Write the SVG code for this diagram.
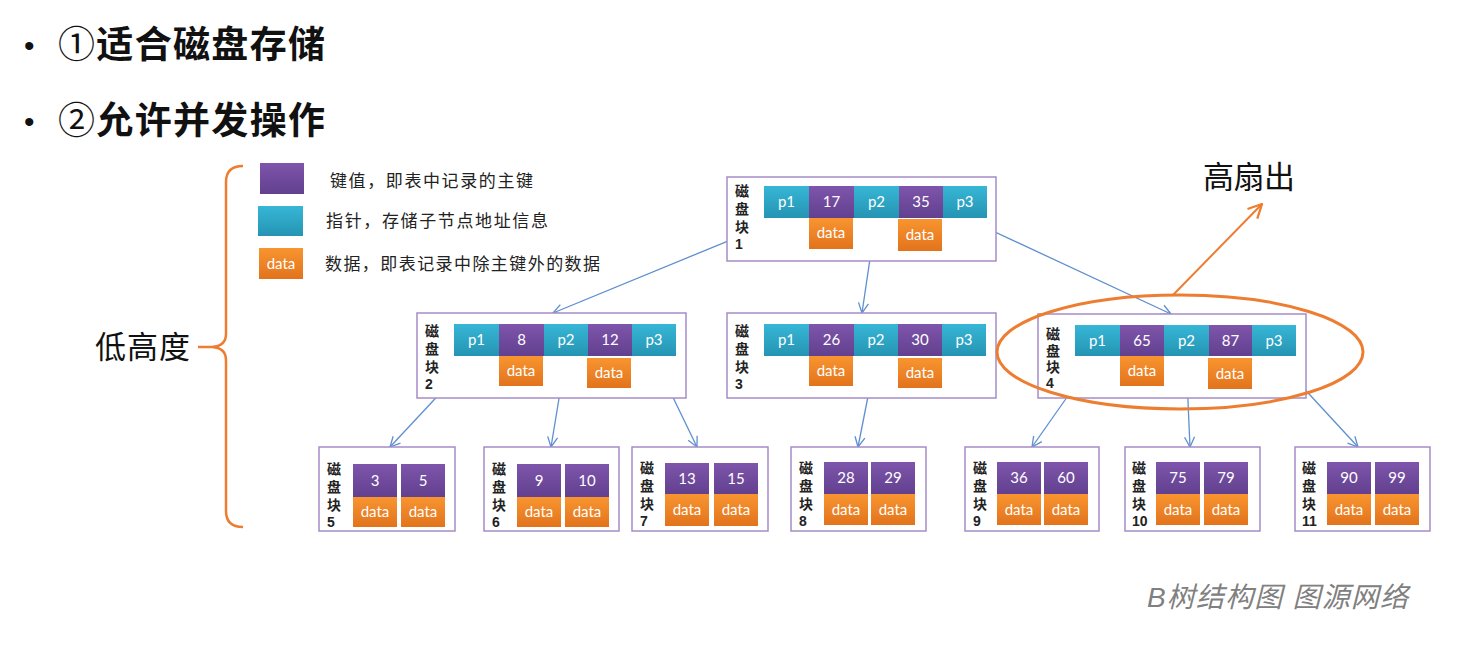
<svg xmlns="http://www.w3.org/2000/svg" width="1462" height="648" viewBox="0 0 1462 648">
<defs>
<linearGradient id="gP" x1="0" y1="0" x2="0" y2="1"><stop offset="0" stop-color="#7E55AB"/><stop offset="1" stop-color="#62408F"/></linearGradient>
<linearGradient id="gC" x1="0" y1="0" x2="0" y2="1"><stop offset="0" stop-color="#37B6D6"/><stop offset="1" stop-color="#2594B3"/></linearGradient>
<linearGradient id="gO" x1="0" y1="0" x2="0" y2="1"><stop offset="0" stop-color="#F89530"/><stop offset="1" stop-color="#E2731C"/></linearGradient>
<marker id="ab" viewBox="0 0 12 12" refX="11" refY="6" markerWidth="12" markerHeight="12" markerUnits="userSpaceOnUse" orient="auto"><path d="M1,1 L11,6 L1,11" fill="none" stroke="#5E8FCF" stroke-width="1.3"/></marker>
<marker id="ao" viewBox="0 0 14 14" refX="13" refY="7" markerWidth="16" markerHeight="16" markerUnits="userSpaceOnUse" orient="auto"><path d="M1,1 L13,7 L1,13" fill="none" stroke="#ED7D31" stroke-width="2"/></marker>
</defs>
<style>
.k{fill:url(#gP)}
.p{fill:url(#gC)}
.d{fill:url(#gO)}
.box{fill:#fff;stroke:#A58CC8;stroke-width:1.5}
.t{font-family:"Lato","Liberation Sans",sans-serif;font-size:15px;fill:#fff;text-anchor:middle}
.lb{font-family:"Liberation Sans","Noto Sans CJK SC",sans-serif;font-size:14px;font-weight:bold;fill:#222}
.cn{font-family:"Noto Sans CJK SC",sans-serif;fill:#111}
.lg{font-family:"Noto Sans CJK SC",sans-serif;font-size:17px;fill:#222}
.con{fill:none;stroke:#5E8FCF;stroke-width:1.3;marker-end:url(#ab)}
</style>
<rect width="1462" height="648" fill="#fff"/>

<g id="title">
<text x="24" y="56" font-family="Liberation Sans,sans-serif" font-size="30" fill="#111">•</text>
<text x="58" y="58" class="cn" font-size="37" textLength="267" lengthAdjust="spacing"><tspan font-weight="normal">①</tspan><tspan font-weight="bold">适合磁盘存储</tspan></text>
<text x="24" y="132" font-family="Liberation Sans,sans-serif" font-size="30" fill="#111">•</text>
<text x="58" y="134" class="cn" font-size="37" textLength="267" lengthAdjust="spacing"><tspan font-weight="normal">②</tspan><tspan font-weight="bold">允许并发操作</tspan></text>
</g>

<g id="legend">
<rect x="260" y="163" width="44" height="31" class="k"/>
<text x="330" y="187" class="lg" textLength="203" lengthAdjust="spacing">键值，即表中记录的主键</text>
<rect x="258" y="206" width="45" height="30" class="p"/>
<text x="326" y="227" class="lg" textLength="222" lengthAdjust="spacing">指针，存储子节点地址信息</text>
<rect x="259" y="248" width="44" height="31" class="d"/>
<text x="281" y="269" class="t" font-size="14">data</text>
<text x="325" y="270" class="lg" textLength="275" lengthAdjust="spacing">数据，即表记录中除主键外的数据</text>
</g>

<g id="low-height">
<path d="M243,166 Q226,166 226,182 L226,334 Q226,346 212,347 Q226,348 226,360 L226,511 Q226,527 243,527 M198,347 L214,347" fill="none" stroke="#ED7D31" stroke-width="2.5"/>
<text x="95" y="358" class="cn" font-size="31" textLength="95" lengthAdjust="spacing">低高度</text>
</g>

<g id="connectors">
<line x1="784" y1="218" x2="553" y2="313" class="con"/>
<line x1="876" y1="218" x2="862" y2="313" class="con"/>
<line x1="965" y1="218" x2="1171" y2="314" class="con"/>
<line x1="475" y1="356" x2="390" y2="447" class="con"/>
<line x1="566" y1="356" x2="551" y2="447" class="con"/>
<line x1="653" y1="356" x2="697" y2="447" class="con"/>
<line x1="876" y1="356" x2="858" y2="447" class="con"/>
<line x1="1096" y1="356" x2="1032" y2="447" class="con"/>
<line x1="1186" y1="356" x2="1190" y2="447" class="con"/>
<line x1="1274" y1="356" x2="1358" y2="447" class="con"/>
</g>

<g id="node1">
<rect x="727" y="177" width="269" height="84" class="box"/>
<text class="lb"><tspan x="735" y="196">磁</tspan><tspan x="735" y="214">盘</tspan><tspan x="735" y="232">块</tspan><tspan x="735" y="249">1</tspan></text>
<rect x="764" y="186" width="45" height="32" class="p"/><text x="786.5" y="207" class="t">p1</text>
<rect x="809" y="186" width="45" height="32" class="k"/><text x="831.5" y="207" class="t">17</text>
<rect x="854" y="186" width="45" height="32" class="p"/><text x="876.5" y="207" class="t">p2</text>
<rect x="899" y="186" width="44" height="32" class="k"/><text x="921" y="207" class="t">35</text>
<rect x="943" y="186" width="44" height="32" class="p"/><text x="965" y="207" class="t">p3</text>
<rect x="809" y="218" width="44" height="31" class="d"/><text x="831" y="238" class="t">data</text>
<rect x="898" y="219" width="44" height="32" class="d"/><text x="920" y="240" class="t">data</text>
</g>

<g id="node2">
<rect x="417" y="313" width="269" height="85" class="box"/>
<text class="lb"><tspan x="425" y="336">磁</tspan><tspan x="425" y="354">盘</tspan><tspan x="425" y="372">块</tspan><tspan x="425" y="389">2</tspan></text>
<rect x="454" y="324" width="45" height="32" class="p"/><text x="476.5" y="345" class="t">p1</text>
<rect x="499" y="324" width="45" height="32" class="k"/><text x="521.5" y="345" class="t">8</text>
<rect x="544" y="324" width="44" height="32" class="p"/><text x="566" y="345" class="t">p2</text>
<rect x="588" y="324" width="44" height="32" class="k"/><text x="610" y="345" class="t">12</text>
<rect x="632" y="324" width="44" height="32" class="p"/><text x="654" y="345" class="t">p3</text>
<rect x="499" y="356" width="44" height="30" class="d"/><text x="521" y="376" class="t">data</text>
<rect x="587" y="358" width="44" height="30" class="d"/><text x="609" y="378" class="t">data</text>
</g>

<g id="node3">
<rect x="727" y="313" width="269" height="85" class="box"/>
<text class="lb"><tspan x="735" y="336">磁</tspan><tspan x="735" y="354">盘</tspan><tspan x="735" y="372">块</tspan><tspan x="735" y="389">3</tspan></text>
<rect x="764" y="324" width="45" height="32" class="p"/><text x="786.5" y="345" class="t">p1</text>
<rect x="809" y="324" width="45" height="32" class="k"/><text x="831.5" y="345" class="t">26</text>
<rect x="854" y="324" width="44" height="32" class="p"/><text x="876" y="345" class="t">p2</text>
<rect x="898" y="324" width="44" height="32" class="k"/><text x="920" y="345" class="t">30</text>
<rect x="942" y="324" width="44" height="32" class="p"/><text x="964" y="345" class="t">p3</text>
<rect x="809" y="356" width="44" height="30" class="d"/><text x="831" y="376" class="t">data</text>
<rect x="898" y="358" width="44" height="30" class="d"/><text x="920" y="378" class="t">data</text>
</g>

<g id="node4">
<rect x="1038" y="314" width="268" height="84" class="box"/>
<text class="lb"><tspan x="1046" y="339">磁</tspan><tspan x="1046" y="356">盘</tspan><tspan x="1046" y="372">块</tspan><tspan x="1046" y="388">4</tspan></text>
<rect x="1075" y="325" width="45" height="31" class="p"/><text x="1097.5" y="346" class="t">p1</text>
<rect x="1120" y="325" width="44" height="31" class="k"/><text x="1142" y="346" class="t">65</text>
<rect x="1164" y="325" width="45" height="31" class="p"/><text x="1186.5" y="346" class="t">p2</text>
<rect x="1209" y="325" width="43" height="31" class="k"/><text x="1230.5" y="346" class="t">87</text>
<rect x="1252" y="325" width="44" height="31" class="p"/><text x="1274" y="346" class="t">p3</text>
<rect x="1120" y="356" width="44" height="30" class="d"/><text x="1142" y="376" class="t">data</text>
<rect x="1208" y="358" width="44" height="31" class="d"/><text x="1230" y="379" class="t">data</text>
</g>

<g id="node5">
<rect x="319" y="447" width="136" height="84" class="box"/>
<text class="lb"><tspan x="327" y="474">磁</tspan><tspan x="327" y="492">盘</tspan><tspan x="327" y="510">块</tspan><tspan x="327" y="527">5</tspan></text>
<rect x="353" y="464" width="44" height="33" class="k"/><text x="375" y="486" class="t">3</text>
<rect x="401" y="464" width="44" height="33" class="k"/><text x="423" y="486" class="t">5</text>
<rect x="353" y="497" width="44" height="30" class="d"/><text x="375" y="517" class="t">data</text>
<rect x="401" y="497" width="44" height="30" class="d"/><text x="423" y="517" class="t">data</text>
</g>

<g id="node6">
<rect x="484" y="447" width="135" height="84" class="box"/>
<text class="lb"><tspan x="492" y="474">磁</tspan><tspan x="492" y="492">盘</tspan><tspan x="492" y="510">块</tspan><tspan x="492" y="527">6</tspan></text>
<rect x="517" y="464" width="44" height="33" class="k"/><text x="539" y="486" class="t">9</text>
<rect x="565" y="464" width="44" height="33" class="k"/><text x="587" y="486" class="t">10</text>
<rect x="517" y="497" width="44" height="30" class="d"/><text x="539" y="517" class="t">data</text>
<rect x="565" y="497" width="44" height="30" class="d"/><text x="587" y="517" class="t">data</text>
</g>

<g id="node7">
<rect x="632" y="447" width="136" height="84" class="box"/>
<text class="lb"><tspan x="640" y="473">磁</tspan><tspan x="640" y="491">盘</tspan><tspan x="640" y="509">块</tspan><tspan x="640" y="526">7</tspan></text>
<rect x="665" y="463" width="44" height="31" class="k"/><text x="687" y="484" class="t">13</text>
<rect x="714" y="463" width="44" height="31" class="k"/><text x="736" y="484" class="t">15</text>
<rect x="665" y="494" width="44" height="32" class="d"/><text x="687" y="515" class="t">data</text>
<rect x="714" y="494" width="44" height="32" class="d"/><text x="736" y="515" class="t">data</text>
</g>

<g id="node8">
<rect x="791" y="447" width="135" height="84" class="box"/>
<text class="lb"><tspan x="799" y="473">磁</tspan><tspan x="799" y="491">盘</tspan><tspan x="799" y="509">块</tspan><tspan x="799" y="526">8</tspan></text>
<rect x="824" y="462" width="44" height="32" class="k"/><text x="846" y="483" class="t">28</text>
<rect x="871" y="462" width="44" height="32" class="k"/><text x="893" y="483" class="t">29</text>
<rect x="824" y="494" width="44" height="31" class="d"/><text x="846" y="515" class="t">data</text>
<rect x="871" y="494" width="44" height="31" class="d"/><text x="893" y="515" class="t">data</text>
</g>

<g id="node9">
<rect x="965" y="447" width="134" height="84" class="box"/>
<text class="lb"><tspan x="973" y="473">磁</tspan><tspan x="973" y="491">盘</tspan><tspan x="973" y="509">块</tspan><tspan x="973" y="526">9</tspan></text>
<rect x="997" y="462" width="44" height="32" class="k"/><text x="1019" y="483" class="t">36</text>
<rect x="1044" y="462" width="44" height="32" class="k"/><text x="1066" y="483" class="t">60</text>
<rect x="997" y="494" width="44" height="31" class="d"/><text x="1019" y="515" class="t">data</text>
<rect x="1044" y="494" width="44" height="31" class="d"/><text x="1066" y="515" class="t">data</text>
</g>

<g id="node10">
<rect x="1125" y="447" width="135" height="84" class="box"/>
<text class="lb"><tspan x="1132" y="473">磁</tspan><tspan x="1132" y="491">盘</tspan><tspan x="1132" y="509">块</tspan><tspan x="1132" y="526">10</tspan></text>
<rect x="1156" y="462" width="44" height="32" class="k"/><text x="1178" y="483" class="t">75</text>
<rect x="1204" y="462" width="44" height="32" class="k"/><text x="1226" y="483" class="t">79</text>
<rect x="1156" y="494" width="44" height="31" class="d"/><text x="1178" y="515" class="t">data</text>
<rect x="1204" y="494" width="44" height="31" class="d"/><text x="1226" y="515" class="t">data</text>
</g>

<g id="node11">
<rect x="1295" y="447" width="135" height="84" class="box"/>
<text class="lb"><tspan x="1302" y="473">磁</tspan><tspan x="1302" y="491">盘</tspan><tspan x="1302" y="509">块</tspan><tspan x="1302" y="526">11</tspan></text>
<rect x="1327" y="462" width="44" height="32" class="k"/><text x="1349" y="483" class="t">90</text>
<rect x="1375" y="462" width="44" height="32" class="k"/><text x="1397" y="483" class="t">99</text>
<rect x="1327" y="494" width="44" height="31" class="d"/><text x="1349" y="515" class="t">data</text>
<rect x="1375" y="494" width="44" height="31" class="d"/><text x="1397" y="515" class="t">data</text>
</g>

<g id="high-fanout">
<ellipse cx="1180" cy="352" rx="183" ry="57" fill="none" stroke="#ED7D31" stroke-width="3"/>
<line x1="1173" y1="295" x2="1262" y2="204" stroke="#ED7D31" stroke-width="2" marker-end="url(#ao)"/>
<text x="1203" y="188" class="cn" font-size="31" textLength="92" lengthAdjust="spacing">高扇出</text>
</g>

<g id="caption">
<text x="1147" y="607" font-family="Liberation Sans,Noto Sans CJK SC,sans-serif" font-size="28" font-style="italic" fill="#808080" textLength="261" lengthAdjust="spacing">B树结构图 图源网络</text>
</g>
</svg>
